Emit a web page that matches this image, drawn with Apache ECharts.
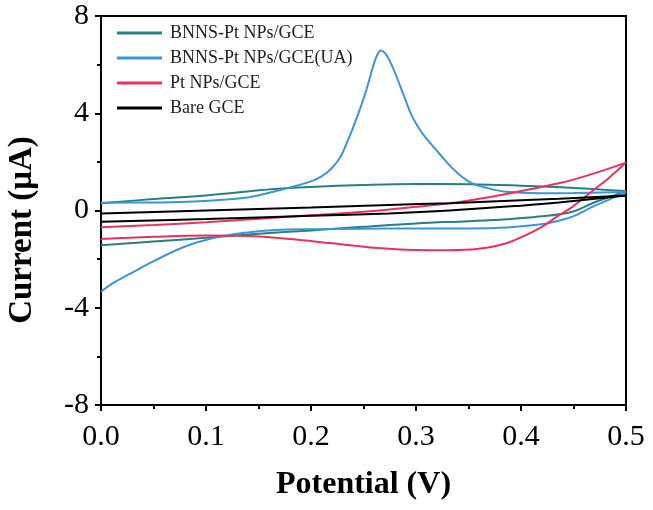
<!DOCTYPE html>
<html>
<head>
<meta charset="utf-8">
<script src="https://cdn.jsdelivr.net/npm/echarts@6/dist/echarts.min.js"></script>
<style>
html,body{margin:0;padding:0;background:#fff;}
#chart{width:653px;height:510px;}
</style>
</head>
<body>
<div id="chart"></div>
<script>
// Series names (legend order)
const seriesNames = ['BNNS-Pt NPs/GCE', 'BNNS-Pt NPs/GCE(UA)', 'Pt NPs/GCE', 'Bare GCE'];
const seriesColors = ['#2a7f80', '#3c95d8', '#e8335d', '#000000'];

// BNNS-Pt NPs/GCE : forward (anodic) and reverse scans
const tealFwdX = [0, 0.05, 0.1, 0.165, 0.2, 0.25, 0.3, 0.35, 0.4, 0.45, 0.5];
const tealFwdY = [0.30, 0.47, 0.62, 0.88, 0.97, 1.05, 1.09, 1.08, 1.02, 0.93, 0.80];
const tealRevX = [0.5, 0.484, 0.468, 0.449, 0.417, 0.386, 0.35, 0.3, 0.25, 0.2, 0.15, 0.1, 0.05, 0];
const tealRevY = [0.80, 0.55, 0.30, -0.05, -0.25, -0.36, -0.44, -0.53, -0.67, -0.82, -0.96, -1.12, -1.28, -1.43];

// BNNS-Pt NPs/GCE(UA)
const blueFwdX = [0, 0.05, 0.089, 0.137, 0.165, 0.18, 0.2, 0.21, 0.22, 0.228, 0.234, 0.24, 0.246, 0.2507, 0.255, 0.2586, 0.2626, 0.2666, 0.271, 0.276, 0.282, 0.2888, 0.296, 0.304, 0.311, 0.319, 0.328, 0.338, 0.353, 0.37, 0.386, 0.417, 0.45, 0.5];
const blueFwdY = [0.32, 0.33, 0.37, 0.52, 0.78, 0.95, 1.20, 1.40, 1.75, 2.20, 2.77, 3.40, 4.10, 4.68, 5.30, 5.85, 6.35, 6.58, 6.45, 6.06, 5.45, 4.68, 3.90, 3.30, 2.90, 2.50, 2.05, 1.60, 1.13, 0.90, 0.77, 0.71, 0.72, 0.76];
const blueRevX = [0.5, 0.484, 0.468, 0.449, 0.43, 0.417, 0.386, 0.35, 0.3, 0.25, 0.2, 0.179, 0.148, 0.116, 0.084, 0.052, 0.027, 0.011, 0];
const blueRevY = [0.76, 0.45, 0.15, -0.25, -0.48, -0.58, -0.70, -0.74, -0.74, -0.75, -0.77, -0.78, -0.86, -1.05, -1.42, -2.04, -2.62, -3.00, -3.34];

// Pt NPs/GCE
const pinkFwdX = [0, 0.05, 0.1, 0.165, 0.2, 0.25, 0.3, 0.332, 0.36, 0.386, 0.417, 0.436, 0.449, 0.475, 0.5];
const pinkFwdY = [-0.69, -0.60, -0.48, -0.30, -0.20, -0.05, 0.15, 0.30, 0.48, 0.68, 0.95, 1.12, 1.26, 1.60, 1.97];
const pinkRevX = [0.5, 0.484, 0.468, 0.449, 0.436, 0.417, 0.386, 0.36, 0.33, 0.3, 0.26, 0.22, 0.18, 0.14, 0.1, 0.05, 0];
const pinkRevY = [1.97, 1.35, 0.80, 0.15, -0.20, -0.75, -1.35, -1.57, -1.63, -1.62, -1.53, -1.35, -1.17, -1.05, -1.03, -1.08, -1.17];

// Bare GCE
const blackFwdX = [0, 0.1, 0.2, 0.274, 0.332, 0.4, 0.436, 0.5];
const blackFwdY = [-0.12, 0.00, 0.12, 0.23, 0.30, 0.42, 0.48, 0.62];
const blackRevX = [0.5, 0.436, 0.4, 0.332, 0.274, 0.2, 0.1, 0];
const blackRevY = [0.62, 0.33, 0.20, 0.00, -0.12, -0.22, -0.35, -0.46];

// Axis ticks
const xTicks = [0.0, 0.1, 0.2, 0.3, 0.4, 0.5];
const yTicks = [-8, -4, 0, 4, 8];

function pairs(xs, ys){ return xs.map((x,i)=>[x, ys[i]]); }

const curves = [
  [tealFwdX, tealFwdY, tealRevX, tealRevY],
  [blueFwdX, blueFwdY, blueRevX, blueRevY],
  [pinkFwdX, pinkFwdY, pinkRevX, pinkRevY],
  [blackFwdX, blackFwdY, blackRevX, blackRevY]
];

const FONT = 'Liberation Serif';
const series = [];
curves.forEach((c, i) => {
  [[c[0], c[1]], [c[2], c[3]]].forEach(seg => {
    series.push({
      name: seriesNames[i],
      type: 'line',
      data: pairs(seg[0], seg[1]),
      smooth: 0.4,
      symbol: 'none',
      lineStyle: { color: seriesColors[i], width: 2 },
      itemStyle: { color: seriesColors[i] },
      z: 3 + i
    });
  });
});

const chart = echarts.init(document.getElementById('chart'), null, { renderer: 'canvas' });
chart.setOption({
  animation: false,
  backgroundColor: '#fff',
  grid: { left: 101, right: 27, top: 16, bottom: 105, show: true, borderColor: '#000', borderWidth: 2, backgroundColor: 'transparent' },
  legend: {
    data: seriesNames.map(n => ({ name: n, icon: 'rect' })),
    orient: 'vertical',
    left: 112,
    top: 18,
    itemWidth: 45,
    itemHeight: 3,
    itemGap: 5,
    textStyle: { fontFamily: FONT, fontSize: 18, lineHeight: 20, color: '#222', padding: [0, 0, 0, 3] }
  },
  xAxis: {
    type: 'value',
    min: 0, max: 0.5, interval: 0.1,
    name: 'Potential (V)',
    nameLocation: 'middle',
    nameGap: 64,
    nameTextStyle: { fontFamily: FONT, fontSize: 32, fontWeight: 'bold', color: '#000' },
    axisLine: { show: true, onZero: false, lineStyle: { color: '#000', width: 2 } },
    axisTick: { show: true, inside: false, length: 6, lineStyle: { color: '#000', width: 2 } },
    minorTick: { show: true, splitNumber: 2, length: 4, lineStyle: { color: '#000', width: 2 } },
    splitLine: { show: false },
    axisLabel: { fontFamily: FONT, fontSize: 30, color: '#000', margin: 17,
      formatter: v => { const t = xTicks.find(k => Math.abs(k - v) < 1e-9); return t === undefined ? '' : t.toFixed(1); } }
  },
  yAxis: {
    type: 'value',
    min: -8, max: 8, interval: 4,
    axisLine: { show: true, onZero: false, lineStyle: { color: '#000', width: 2 } },
    axisTick: { show: true, inside: false, length: 6, lineStyle: { color: '#000', width: 2 } },
    minorTick: { show: true, splitNumber: 2, length: 4, lineStyle: { color: '#000', width: 2 } },
    splitLine: { show: false },
    axisLabel: { fontFamily: FONT, fontSize: 30, color: '#000', margin: 12,
      formatter: v => { const t = yTicks.find(k => Math.abs(k - v) < 1e-9); return t === undefined ? '' : String(t); } }
  },
  graphic: [{
    type: 'text',
    x: 22, y: 230,
    rotation: Math.PI / 2,
    style: { text: 'Current (μA)', font: 'bold 33px "Liberation Serif"', fill: '#000', textAlign: 'center', textVerticalAlign: 'middle' }
  }],
  series: series
});
</script>
</body>
</html>
